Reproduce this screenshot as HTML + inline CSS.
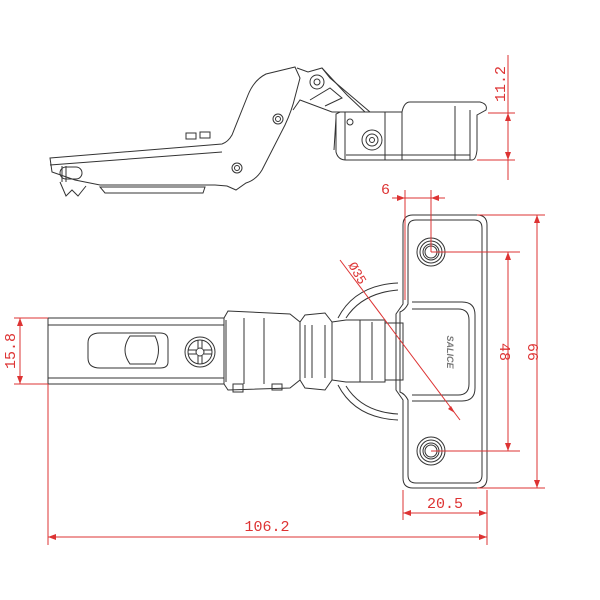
<!DOCTYPE html>
<html><head><style>body{margin:0;background:#fff}svg{display:block}</style></head><body>
<svg width="600" height="600" viewBox="0 0 600 600" xmlns="http://www.w3.org/2000/svg" font-family="Liberation Mono, monospace">
<g fill="none" stroke="#333" stroke-width="1">
<!-- SIDE VIEW -->
<path d="M50,158 L222,144 Q228,142 232,135 L248,95 Q254,80 266,74 L295,67 L300,78 L295,97 Q292,110 285,125 L262,170 Q256,180 246,183 L236,190 L227,186 L215,185 L100,185 L75,180 L52,172 Z"/>
<path d="M50,165 L222,152"/>
<path d="M60,182 L66,196 L72,190 L78,196 L86,186"/>
<path d="M100,187 L205,187 L203,193 L105,193 Z"/>
<rect x="60" y="167" width="22" height="12" rx="6"/>
<path d="M62,166 L62,182 M66,166 L66,182"/>
<rect x="186" y="133" width="10" height="6"/><rect x="200" y="132" width="10" height="6"/>
<circle cx="278" cy="119" r="5"/><circle cx="278" cy="119" r="2.5"/>
<circle cx="237" cy="168" r="5"/><circle cx="237" cy="168" r="2.5"/>
<path d="M297,68 L308,72 L322,68 L330,78 L370,112 L332,112 L300,100 L293,110"/>
<circle cx="317" cy="82" r="7"/><circle cx="317" cy="82" r="3"/>
<path d="M322,68 L347,95 L365,112 M310,100 L330,88 L342,98 L325,106"/>
<path d="M336,114 L336,152 Q338,160 346,160 L472,160 Q476,160 477,150 L477,115 L486,110 Q488,104 480,102 L410,102 Q404,102 402,112 L340,112 Z"/>
<path d="M336,118 L334,150 M345,112 L345,160 M385,112 L385,160 M402,112 L402,160 M455,106 L455,160 M470,110 L470,160 M346,155 L470,155"/>
<circle cx="372" cy="140" r="10"/><circle cx="372" cy="140" r="6"/><circle cx="372" cy="140" r="2.5"/>
<circle cx="350" cy="122" r="3"/>
<!-- TOP VIEW: arm -->
<rect x="48" y="318" width="176" height="66"/>
<path d="M48,325 L224,325 M48,378 L224,378"/>
<path d="M100,333 L160,333 Q168,333 168,340 L168,362 Q168,368 160,368 L100,368 Q88,368 88,358 L88,343 Q88,333 100,333 Z"/>
<path d="M130,336 L155,336 Q162,350 155,364 L130,364 Q120,350 130,336 Z"/>
<circle cx="200" cy="352" r="15"/><circle cx="200" cy="352" r="12"/><circle cx="200" cy="352" r="4"/>
<path d="M188,350 L196,350 M204,350 L212,350 M188,354 L196,354 M204,354 L212,354 M198,340 L198,348 M202,340 L202,348 M198,356 L198,364 M202,356 L202,364"/>
<path d="M224,318 L228,311 L290,314 L300,322 L300,380 L290,388 L228,390 L224,384"/>
<path d="M244,318 L244,384 M264,318 L264,384 M226,320 L226,382"/>
<rect x="233" y="384" width="10" height="8"/><rect x="272" y="384" width="10" height="6"/>
<path d="M300,322 L305,315 L325,313 L332,322 L332,380 L325,390 L305,388 L300,380 Z"/>
<path d="M305,325 L305,378 M312,325 L312,378 M325,325 L325,378"/>
<path d="M332,322 L346,320 L385,320 L385,382 L346,382 L332,380"/>
<path d="M360,320 L360,382 M372,322 L372,380 M385,323 L403,323 L403,380 L385,380"/>
<path d="M338,318 Q355,285 398,283 M338,385 Q355,418 398,420"/>
<path d="M346,318 Q362,293 398,290 M346,386 Q362,412 398,414"/>
<!-- plate -->
<path d="M413,215 L477,215 Q487,215 487,225 L487,478 Q487,488 477,488 L413,488 Q403,488 403,478 L403,400 L396,390 L396,314 L403,304 L403,225 Q403,215 413,215 Z"/>
<path d="M416,220 L474,220 Q482,220 482,228 L482,475 Q482,483 474,483 L416,483 Q408,483 408,475 L408,400 Q405,394 400,392 L400,312 Q405,310 408,304 L408,228 Q408,220 416,220 Z"/>
<path d="M412,302 L462,302 Q475,302 475,315 L475,388 Q475,401 462,401 L412,401"/>
<path d="M412,309 L458,309 Q469,309 469,320 L469,384 Q469,395 458,395 L412,395"/>
<circle cx="431" cy="252" r="14"/><circle cx="431" cy="252" r="11"/><circle cx="431" cy="252" r="8"/><circle cx="431" cy="252" r="6"/>
<circle cx="431" cy="451" r="14"/><circle cx="431" cy="451" r="11"/><circle cx="431" cy="451" r="8"/><circle cx="431" cy="451" r="6"/>
</g>
<text x="447" y="352" transform="rotate(90 447 352)" text-anchor="middle" font-family="Liberation Sans, sans-serif" font-weight="bold" font-style="italic" font-size="9" fill="#777">SALICE</text>
<!-- DIMENSIONS -->
<g stroke="#d33" stroke-width="1" fill="none">
<path d="M488,113 L515,113 M477,160 L515,160 M508,55 L508,180"/>
<path d="M392,198 L445,198 M405,190 L405,300 M431,190 L431,252"/>
<path d="M431,252 L520,252 M431,451 L520,451 M508,252 L508,451"/>
<path d="M477,215 L545,215 M477,488 L545,488 M537,215 L537,488"/>
<path d="M403,490 L403,520 M487,490 L487,545 M403,513 L487,513"/>
<path d="M48,384 L48,545 M48,537 L487,537"/>
<path d="M14,318 L48,318 M14,384 L48,384 M20,318 L20,384"/>
<path d="M340,260 L460,420"/>
</g>
<g fill="#d33" stroke="none">
<path d="M508,160 l-3,-8 l6,0z M508,113 l-3,8 l6,0z"/>
<path d="M405,198 l-8,-3 l0,6z M431,198 l8,-3 l0,6z"/>
<path d="M508,252 l-3,8 l6,0z M508,451 l-3,-8 l6,0z"/>
<path d="M537,215 l-3,8 l6,0z M537,488 l-3,-8 l6,0z"/>
<path d="M403,513 l8,-3 l0,6z M487,513 l-8,-3 l0,6z"/>
<path d="M48,537 l8,-3 l0,6z M487,537 l-8,-3 l0,6z"/>
<path d="M20,318 l-3,8 l6,0z M20,384 l-3,-8 l6,0z"/>
<path d="M455,413 l-7,-4 l3,-3z"/>
</g>
<g fill="#d33" font-size="15">
<text x="505" y="84" transform="rotate(-90 505 84)" text-anchor="middle">11.2</text>
<text x="381" y="194">6</text>
<text x="348" y="265" transform="rotate(60 348 265)" font-size="13">Ø35</text>
<text x="500" y="352" transform="rotate(90 500 352)" text-anchor="middle">48</text>
<text x="528" y="352" transform="rotate(90 528 352)" text-anchor="middle">66</text>
<text x="445" y="508" text-anchor="middle">20.5</text>
<text x="267" y="531" text-anchor="middle">106.2</text>
<text x="15" y="351" transform="rotate(-90 15 351)" text-anchor="middle">15.8</text>
</g>
</svg>
</body></html>
